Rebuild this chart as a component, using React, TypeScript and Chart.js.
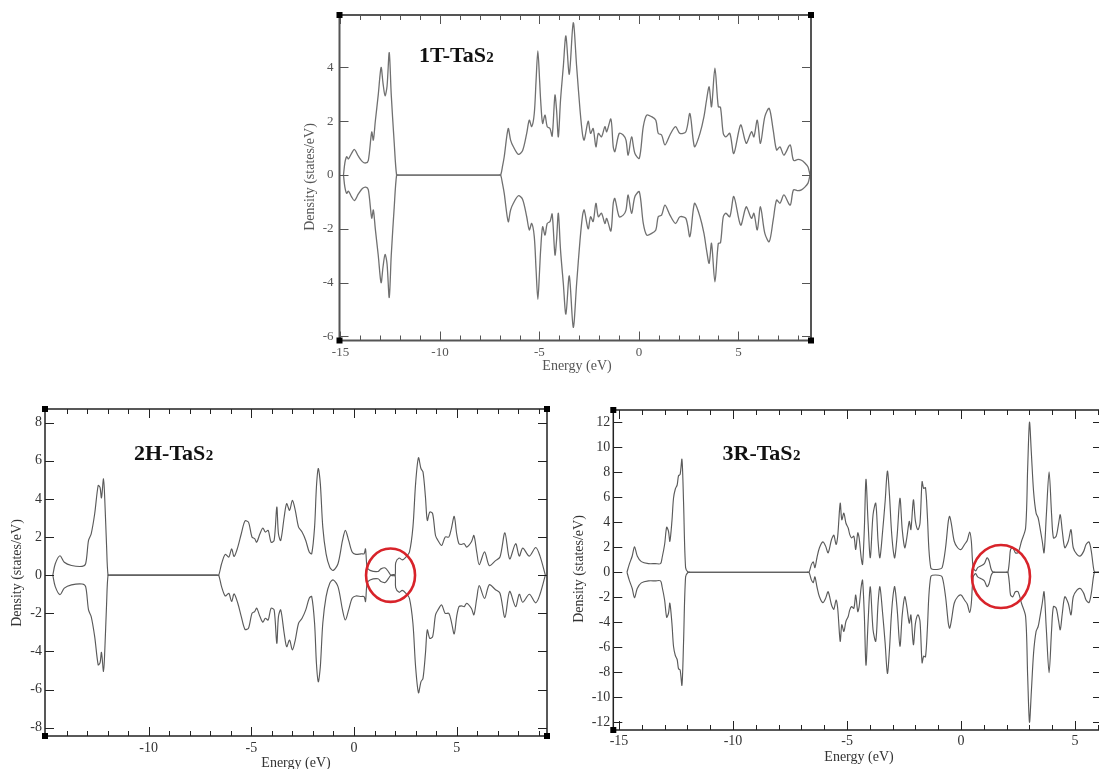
import React, { useEffect, useRef } from 'react';
import { Chart, registerables } from 'chart.js';

Chart.register(...registerables);

const SERIF = '"Liberation Serif", "Times New Roman", "DejaVu Serif", serif';
const X_LABEL = 'Energy (eV)';
const Y_LABEL = 'Density (states/eV)';

// ---------- 1T-TaS2 ----------
const E_1T = [-14.85,-14.78,-14.69,-14.6,-14.45,-14.3,-14.1,-13.9,-13.73,-13.6,-13.43,-13.35,-13.25,-13.1,-12.96,-12.86,-12.76,-12.66,-12.55,-12.45,-12.3,-12.18,-12.08,-7.05,-6.95,-6.85,-6.77,-6.57,-6.45,-6.31,-6.06,-5.85,-5.64,-5.51,-5.39,-5.26,-5.17,-5.08,-4.99,-4.94,-4.84,-4.72,-4.61,-4.47,-4.36,-4.22,-4.14,-4.05,-3.94,-3.8,-3.67,-3.5,-3.3,-3.13,-2.96,-2.83,-2.75,-2.55,-2.43,-2.3,-2.16,-2.04,-1.88,-1.71,-1.62,-1.41,-1.29,-1.21,-0.99,-0.79,-0.65,-0.54,-0.37,-0.2,0.02,0.22,0.39,0.64,0.85,0.97,1.14,1.31,1.56,1.84,2.06,2.36,2.56,2.73,2.81,3.07,3.27,3.4,3.53,3.65,3.82,3.99,4.1,4.24,4.37,4.57,4.77,5.11,5.33,5.41,5.66,5.78,5.95,6.11,6.33,6.55,6.75,6.92,7.09,7.29,7.6,7.77,8.0,8.17,8.34,8.5,8.6];
const UP_1T = [0,0.45,0.68,0.6,0.8,0.95,0.7,0.5,0.45,0.55,1.6,1.3,2.0,3.0,4.0,3.4,2.95,3.3,4.55,3.0,1.2,0,0,0,0,0.35,0.68,1.73,1.3,1.05,0.77,0.9,1.55,2.04,1.8,2.29,3.5,4.62,3.5,2.79,1.92,2.23,1.8,1.73,1.45,2.97,2.42,1.42,2.79,4.03,5.17,3.75,5.66,4.03,2.42,1.49,1.3,2.0,1.55,1.73,1.05,1.55,1.42,1.8,1.61,2.08,1.05,0.87,1.55,1.49,1.3,0.74,1.42,0.8,0.62,1.8,2.23,2.17,2.04,1.55,1.49,1.12,1.49,1.8,1.55,1.61,2.29,1.3,1.05,1.55,2.17,2.79,3.28,2.54,3.97,2.54,2.52,1.55,1.42,1.55,0.8,1.86,1.3,1.18,1.61,1.42,2.04,1.18,2.17,2.48,1.67,0.93,1.05,0.74,1.12,0.55,0.58,0.55,0.45,0.3,0];
const DN_1T = [0,-0.45,-0.68,-0.6,-0.8,-0.95,-0.7,-0.5,-0.45,-0.55,-1.6,-1.3,-2.0,-3.0,-4.0,-3.4,-2.95,-3.3,-4.55,-3.0,-1.2,0,0,0,0,-0.35,-0.68,-1.73,-1.3,-1.05,-0.77,-0.9,-1.55,-2.04,-1.8,-2.29,-3.5,-4.62,-3.5,-2.79,-1.92,-2.23,-1.8,-1.73,-1.45,-2.97,-2.42,-1.42,-2.79,-4.03,-5.17,-3.75,-5.66,-4.03,-2.42,-1.49,-1.3,-2.0,-1.55,-1.73,-1.05,-1.55,-1.42,-1.8,-1.61,-2.08,-1.05,-0.87,-1.55,-1.49,-1.3,-0.74,-1.42,-0.8,-0.62,-1.8,-2.23,-2.17,-2.04,-1.55,-1.49,-1.12,-1.49,-1.8,-1.55,-1.61,-2.29,-1.3,-1.05,-1.55,-2.17,-2.79,-3.28,-2.54,-3.97,-2.54,-2.52,-1.55,-1.42,-1.55,-0.8,-1.86,-1.3,-1.18,-1.61,-1.42,-2.04,-1.18,-2.17,-2.48,-1.67,-0.93,-1.05,-0.74,-1.12,-0.55,-0.58,-0.55,-0.45,-0.3,0];
const X_TICKS_1T = [-15, -10, -5, 0, 5];
const X_MINOR_1T = [-14, -13, -12, -11, -9, -8, -7, -6, -4, -3, -2, -1, 1, 2, 3, 4, 6, 7, 8];
const Y_TICKS_1T = [-6, -4, -2, 0, 2, 4];

// ---------- 2H-TaS2 ----------
const E_2H = [-14.67,-14.55,-14.32,-14.11,-13.76,-13.24,-13.07,-12.93,-12.8,-12.63,-12.46,-12.37,-12.3,-12.2,-12.14,-12.05,-11.98,-11.88,-6.69,-6.59,-6.45,-6.27,-6.1,-5.96,-5.84,-5.66,-5.49,-5.31,-5.14,-4.97,-4.84,-4.74,-4.58,-4.44,-4.32,-4.18,-4.04,-3.89,-3.76,-3.68,-3.57,-3.4,-3.28,-3.14,-3.0,-2.86,-2.7,-2.53,-2.35,-2.18,-2.06,-1.92,-1.83,-1.74,-1.64,-1.52,-1.36,-1.18,-1.01,-0.78,-0.56,-0.42,-0.26,-0.09,0.09,0.35,0.49,0.56,0.64,0.78,1.17,1.31,1.52,1.69,1.8,2.0,2.03,2.2,2.35,2.53,2.7,2.87,3.0,3.14,3.26,3.36,3.48,3.57,3.69,3.83,3.97,4.09,4.27,4.44,4.62,4.74,4.88,5.0,5.11,5.23,5.37,5.49,5.72,5.84,5.98,6.1,6.36,6.59,6.88,7.11,7.35,7.58,7.87,8.05,8.22,8.54,8.85,9.06,9.32];
const UP_2H = [0,0.6,1.02,0.68,0.51,0.46,0.6,1.82,2.17,3.22,4.7,4.6,4.05,5.05,4.0,1.5,0,0,0,0,0.6,1.09,0.95,1.38,0.98,1.47,2.17,2.84,2.78,2.0,1.91,1.73,2.17,2.47,2.26,2.35,1.73,1.82,3.57,2.17,1.82,3.05,3.75,3.4,3.92,3.4,2.52,2.26,1.82,1.21,1.12,2.52,4.62,5.59,4.8,2.52,1.12,0.42,0.25,0.6,1.82,2.35,1.82,1.21,1.09,1.12,1.12,1.38,0.42,0.25,0.19,0.33,0.38,0.16,0,0,0.65,0.9,0.8,0.95,1.21,2.52,4.8,6.16,5.59,5.41,4.1,2.87,3.31,3.22,2.08,1.82,1.56,2.0,2.0,2.43,3.08,2.17,1.65,1.61,1.65,1.47,1.75,2.08,1.2,0.55,1.22,0.5,0.75,0.95,2.22,0.85,1.65,1.0,1.42,1.0,1.45,1.0,0];
const DN_2H = [0,-0.6,-1.02,-0.68,-0.51,-0.46,-0.6,-1.82,-2.17,-3.22,-4.7,-4.6,-4.05,-5.05,-4.0,-1.5,0,0,0,0,-0.6,-1.09,-0.95,-1.38,-0.98,-1.47,-2.17,-2.84,-2.78,-2.0,-1.91,-1.73,-2.17,-2.47,-2.26,-2.35,-1.73,-1.82,-3.57,-2.17,-1.82,-3.05,-3.75,-3.4,-3.92,-3.4,-2.52,-2.26,-1.82,-1.21,-1.12,-2.52,-4.62,-5.59,-4.8,-2.52,-1.12,-0.42,-0.25,-0.6,-1.82,-2.35,-1.82,-1.21,-1.09,-1.12,-1.12,-1.38,-0.42,-0.25,-0.19,-0.33,-0.38,-0.16,0,0,-0.65,-0.9,-0.8,-0.95,-1.21,-2.52,-4.8,-6.16,-5.59,-5.41,-4.1,-2.87,-3.31,-3.22,-2.08,-1.82,-1.56,-2.0,-2.0,-2.43,-3.08,-2.17,-1.65,-1.61,-1.65,-1.47,-1.75,-2.08,-1.2,-0.55,-1.22,-0.5,-0.75,-0.95,-2.22,-0.85,-1.65,-1.0,-1.42,-1.0,-1.45,-1.0,0];
const X_TICKS_2H = [-10, -5, 0, 5];
const X_MINOR_2H = [-14, -13, -12, -11, -9, -8, -7, -6, -4, -3, -2, -1, 1, 2, 3, 4, 6, 7, 8, 9];
const Y_TICKS_2H = [-8, -6, -4, -2, 0, 2, 4, 6, 8];
const CIRCLE_2H = [1.78, 0];

// ---------- 3R-TaS2 ----------
const E_3R = [-14.65,-14.55,-14.42,-14.32,-14.2,-14.02,-13.71,-13.41,-13.18,-13.11,-13.0,-12.91,-12.83,-12.77,-12.68,-12.61,-12.53,-12.45,-12.39,-12.32,-12.24,-12.17,-12.08,-11.97,-11.87,-6.77,-6.67,-6.56,-6.48,-6.41,-6.32,-6.21,-6.06,-5.94,-5.83,-5.68,-5.58,-5.48,-5.41,-5.3,-5.23,-5.14,-5.05,-4.95,-4.88,-4.8,-4.7,-4.62,-4.53,-4.47,-4.38,-4.32,-4.24,-4.17,-4.08,-3.98,-3.86,-3.74,-3.64,-3.56,-3.44,-3.33,-3.23,-3.14,-3.06,-2.98,-2.91,-2.8,-2.68,-2.58,-2.47,-2.38,-2.27,-2.2,-2.09,-2.0,-1.89,-1.8,-1.71,-1.64,-1.56,-1.48,-1.41,-1.33,-1.26,-0.98,-0.83,-0.68,-0.56,-0.5,-0.42,-0.3,-0.15,0,0.15,0.27,0.38,0.45,0.53,0.64,0.73,0.86,1.02,1.14,1.23,1.32,1.41,1.5,1.96,2.05,2.12,2.17,2.27,2.38,2.5,2.65,2.83,2.92,3.0,3.08,3.18,3.29,3.38,3.45,3.56,3.64,3.74,3.86,3.97,4.05,4.17,4.27,4.35,4.44,4.55,4.7,4.82,4.92,5.08,5.23,5.38,5.48,5.61,5.71,5.83,5.91,6.1];
const UP_3R = [0,0.63,1.3,2.04,1.3,0.85,0.69,0.69,0.69,1.16,2.22,3.6,3.28,2.48,4.07,5.92,6.66,6.98,7.72,7.82,9.04,5.66,0.37,0,0,0,0,0.63,0.82,0.37,1.16,1.96,2.43,2.09,1.56,2.62,2.96,2.22,2.88,5.52,4.2,4.73,3.94,3.54,3.01,2.75,2.88,1.82,3.15,2.75,1.16,0.63,3.54,7.43,4.07,1.16,4.6,5.52,2.48,1.16,3.28,5.66,8.09,6.19,3.54,1.82,1.16,3.01,5.92,3.41,1.96,2.75,4.07,3.41,5.79,4.07,3.41,3.94,7.24,6.71,6.77,4.6,1.82,0.37,0.24,0.24,0.37,1.96,4.07,4.47,3.81,2.48,1.96,1.82,2.22,2.54,3.22,2.48,0.37,0.11,0.37,0.5,0.69,1.16,0.9,0.24,0,0,0,0,0.9,1.82,1.96,1.56,1.56,2.48,3.54,8.3,12.0,9.62,6.45,4.73,4.34,3.67,2.48,1.56,4.6,8.04,4.6,2.75,2.88,3.81,4.6,3.28,1.96,2.48,3.41,1.96,1.43,1.3,1.69,2.22,2.43,1.69,0.11,0,0];
const DN_3R = [0,-0.63,-1.3,-2.04,-1.3,-0.85,-0.69,-0.69,-0.69,-1.16,-2.22,-3.6,-3.28,-2.48,-4.07,-5.92,-6.66,-6.98,-7.72,-7.82,-9.04,-5.66,-0.37,0,0,0,0,-0.63,-0.82,-0.37,-1.16,-1.96,-2.43,-2.09,-1.56,-2.62,-2.96,-2.22,-2.88,-5.52,-4.2,-4.73,-3.94,-3.54,-3.01,-2.75,-2.88,-1.82,-3.15,-2.75,-1.16,-0.63,-3.54,-7.43,-4.07,-1.16,-4.6,-5.52,-2.48,-1.16,-3.28,-5.66,-8.09,-6.19,-3.54,-1.82,-1.16,-3.01,-5.92,-3.41,-1.96,-2.75,-4.07,-3.41,-5.79,-4.07,-3.41,-3.94,-7.24,-6.71,-6.77,-4.6,-1.82,-0.37,-0.24,-0.24,-0.37,-1.96,-4.07,-4.47,-3.81,-2.48,-1.96,-1.82,-2.22,-2.54,-3.22,-2.48,-0.37,-0.11,-0.37,-0.5,-0.69,-1.16,-0.9,-0.24,0,0,0,0,-0.9,-1.82,-1.96,-1.56,-1.56,-2.48,-3.54,-8.3,-12.0,-9.62,-6.45,-4.73,-4.34,-3.67,-2.48,-1.56,-4.6,-8.04,-4.6,-2.75,-2.88,-3.81,-4.6,-3.28,-1.96,-2.48,-3.41,-1.96,-1.43,-1.3,-1.69,-2.22,-2.43,-1.69,-0.11,0,0];
const X_TICKS_3R = [-15, -10, -5, 0, 5];
const X_MINOR_3R = [-14, -13, -12, -11, -9, -8, -7, -6, -4, -3, -2, -1, 1, 2, 3, 4, 6];
const Y_TICKS_3R = [-12, -10, -8, -6, -4, -2, 0, 2, 4, 6, 8, 10, 12];
const CIRCLE_3R = [1.75, -0.34];

type Panel = {
  id: string; name: string; sub: string;
  E: number[]; up: number[]; dn: number[];
  xTicks: number[]; xMinor: number[]; yTicks: number[];
  xMin: number; xMax: number; yMin: number; yMax: number;
  left: number; top: number; w: number; h: number;
  padTop: number; padRight: number; yW: number; xH: number;
  tickFont: number; tickColor: string; yPad: number; xPad: number;
  frameColor: string; frameWidth: number; lineColor: string; lineWidth: number;
  titlePos: number[]; xTitlePos: number[]; yTitlePos: number[];
  circle: null | { c: number[]; rx: number; ry: number };
};

const PANELS: Panel[] = [
  {
    id: '1t', name: '1T-TaS', sub: '2', E: E_1T, up: UP_1T, dn: DN_1T,
    xTicks: X_TICKS_1T, xMinor: X_MINOR_1T, yTicks: Y_TICKS_1T,
    xMin: -15.05, xMax: 8.65, yMin: -6.15, yMax: 5.95,
    left: 290, top: 0, w: 540, h: 380, padTop: 15, padRight: 19, yW: 49.5, xH: 39.5,
    tickFont: 13, tickColor: '#555', yPad: 6, xPad: 4,
    frameColor: '#555', frameWidth: 2, lineColor: '#707070', lineWidth: 1.3,
    titlePos: [129, 62], xTitlePos: [287, 366], yTitlePos: [20, 177], circle: null,
  },
  {
    id: '2h', name: '2H-TaS', sub: '2', E: E_2H, up: UP_2H, dn: DN_2H,
    xTicks: X_TICKS_2H, xMinor: X_MINOR_2H, yTicks: Y_TICKS_2H,
    xMin: -15.05, xMax: 9.4, yMin: -8.43, yMax: 8.71,
    left: 0, top: 395, w: 560, h: 374, padTop: 14, padRight: 13, yW: 45, xH: 33,
    tickFont: 14, tickColor: '#333', yPad: 3, xPad: 4,
    frameColor: '#222', frameWidth: 1.5, lineColor: '#5a5a5a', lineWidth: 1.15,
    titlePos: [134, 65], xTitlePos: [296, 368], yTitlePos: [17, 178],
    circle: { c: CIRCLE_2H, rx: 24.5, ry: 26.7 },
  },
  {
    id: '3r', name: '3R-TaS', sub: '2', E: E_3R, up: UP_3R, dn: DN_3R,
    xTicks: X_TICKS_3R, xMinor: X_MINOR_3R, yTicks: Y_TICKS_3R,
    xMin: -15.25, xMax: 6.18, yMin: -12.62, yMax: 12.98,
    left: 570, top: 395, w: 560, h: 374, padTop: 15, padRight: 28, yW: 43.3, xH: 39,
    tickFont: 14, tickColor: '#333', yPad: 3, xPad: 3,
    frameColor: '#222', frameWidth: 1.5, lineColor: '#5a5a5a', lineWidth: 1.15,
    titlePos: [152.5, 65], xTitlePos: [289, 362], yTitlePos: [9, 174],
    circle: { c: CIRCLE_3R, rx: 29, ry: 31.5 },
  },
];

function drawDecor(chart: any, p: Panel) {
  const { ctx, chartArea: a } = chart;
  const xs = chart.scales.x;
  const ys = chart.scales.y;
  ctx.save();
  ctx.strokeStyle = p.frameColor;
  ctx.lineWidth = 1;
  ctx.beginPath();
  const vtick = (v: number, len: number) => {
    const px = Math.round(xs.getPixelForValue(v)) + 0.5;
    ctx.moveTo(px, a.bottom); ctx.lineTo(px, a.bottom - len);
    ctx.moveTo(px, a.top); ctx.lineTo(px, a.top + len);
  };
  p.xTicks.forEach((v) => vtick(v, 9));
  p.xMinor.forEach((v) => vtick(v, 5));
  p.yTicks.forEach((v) => {
    const py = Math.round(ys.getPixelForValue(v)) + 0.5;
    ctx.moveTo(a.left, py); ctx.lineTo(a.left + 9, py);
    ctx.moveTo(a.right, py); ctx.lineTo(a.right - 9, py);
  });
  ctx.stroke();
  ctx.lineWidth = p.frameWidth;
  ctx.strokeRect(a.left, a.top, a.right - a.left, a.bottom - a.top);
  ctx.fillStyle = '#000';
  [[a.left, a.top], [a.right, a.top], [a.left, a.bottom], [a.right, a.bottom]].forEach(([x, y]) =>
    ctx.fillRect(x - 3, y - 3, 6, 6)
  );
  if (p.circle) {
    const cx = xs.getPixelForValue(p.circle.c[0]);
    const cy = ys.getPixelForValue(p.circle.c[1]);
    ctx.beginPath();
    ctx.ellipse(cx, cy, p.circle.rx, p.circle.ry, 0, 0, Math.PI * 2);
    ctx.strokeStyle = '#d8232a';
    ctx.lineWidth = 2.6;
    ctx.stroke();
  }
  ctx.fillStyle = '#111';
  ctx.textAlign = 'left';
  ctx.textBaseline = 'alphabetic';
  ctx.font = `bold 22px ${SERIF}`;
  ctx.fillText(p.name, p.titlePos[0], p.titlePos[1]);
  const w = ctx.measureText(p.name).width;
  ctx.font = `bold 15px ${SERIF}`;
  ctx.fillText(p.sub, p.titlePos[0] + w + 0.5, p.titlePos[1]);

  ctx.fillStyle = p.tickColor;
  ctx.font = `14px ${SERIF}`;
  ctx.textAlign = 'center';
  ctx.textBaseline = 'middle';
  ctx.fillText(X_LABEL, p.xTitlePos[0], p.xTitlePos[1]);
  ctx.translate(p.yTitlePos[0], p.yTitlePos[1]);
  ctx.rotate(-Math.PI / 2);
  ctx.fillText(Y_LABEL, 0, 0);
  ctx.restore();
}

function PanelChart({ p }: { p: Panel }) {
  const ref = useRef<HTMLCanvasElement>(null);
  useEffect(() => {
    const canvas = ref.current;
    if (!canvas) return;
    const decor = {
      id: 'xmgrace-' + p.id,
      afterDatasetsDraw(chart: any) { drawDecor(chart, p); },
    };
    const ds = (vals: number[]) => ({
      data: p.E.map((x, i) => ({ x, y: vals[i] })),
      borderColor: p.lineColor,
      borderWidth: p.lineWidth,
      pointRadius: 0,
      fill: false,
      tension: 0.3,
    });
    const tickFont = { family: SERIF, size: p.tickFont };
    const chart = new Chart(canvas, {
      type: 'line',
      data: { datasets: [ds(p.up), ds(p.dn)] },
      options: {
        responsive: false,
        animation: false,
        devicePixelRatio: 1,
        events: [],
        layout: { padding: { left: 0, top: p.padTop, right: p.padRight, bottom: 0 } },
        plugins: { legend: { display: false }, tooltip: { enabled: false } },
        scales: {
          x: {
            type: 'linear', min: p.xMin, max: p.xMax,
            grid: { display: false, drawTicks: false },
            border: { display: false },
            ticks: { font: tickFont, color: p.tickColor, padding: p.xPad, maxRotation: 0, autoSkip: false },
            afterBuildTicks: (s: any) => { s.ticks = p.xTicks.map((v) => ({ value: v })); },
            afterFit: (s: any) => { s.height = p.xH; },
          },
          y: {
            type: 'linear', min: p.yMin, max: p.yMax,
            grid: { display: false, drawTicks: false },
            border: { display: false },
            ticks: { font: tickFont, color: p.tickColor, padding: p.yPad, autoSkip: false },
            afterBuildTicks: (s: any) => { s.ticks = p.yTicks.map((v) => ({ value: v })); },
            afterFit: (s: any) => { s.width = p.yW; },
          },
        },
      } as any,
      plugins: [decor],
    });
    return () => chart.destroy();
  }, [p]);
  return (
    <canvas
      ref={ref}
      width={p.w}
      height={p.h}
      style={{ position: 'absolute', left: p.left, top: p.top, width: p.w, height: p.h }}
    />
  );
}

export default function App() {
  return (
    <div
      style={{
        position: 'fixed', left: 0, top: 0, width: 1099, height: 769,
        overflow: 'hidden', background: '#fff',
      }}
    >
      {PANELS.map((p) => (
        <PanelChart key={p.id} p={p} />
      ))}
    </div>
  );
}
